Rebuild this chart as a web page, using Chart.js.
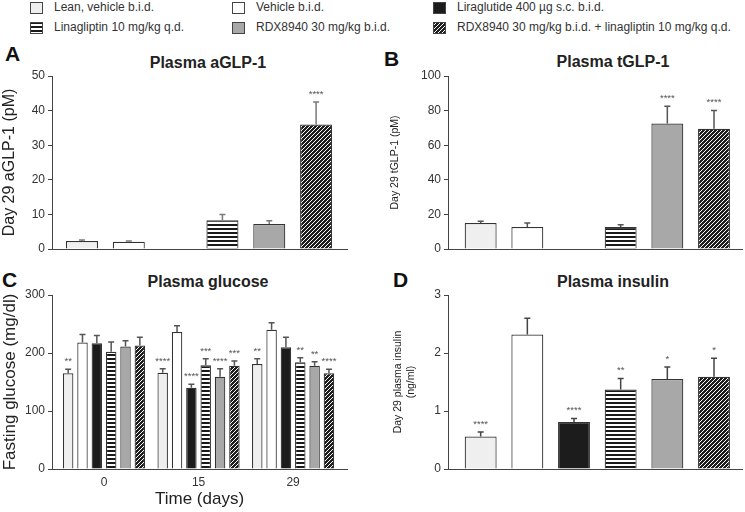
<!DOCTYPE html>
<html>
<head>
<meta charset="utf-8">
<script src="https://cdn.jsdelivr.net/npm/chart.js@4.4.0/dist/chart.umd.min.js"></script>
<style>
    body { margin: 0; background: #fff; width: 745px; height: 512px; position: relative; overflow: hidden;
           font-family: "Liberation Sans", Arial, sans-serif; color: #222; }
    canvas { position: absolute; }
    .txt { position: absolute; white-space: nowrap; }
    .letter { font-size: 21px; font-weight: bold; line-height: 21px; color: #111; }
    .ptitle { font-size: 16px; font-weight: bold; line-height: 16px; width: 240px; text-align: center; color: #222; }
    .leg { font-size: 12px; line-height: 12px; color: #333; }
</style>
</head>
<body>

<div id="legend"></div>

<div class="txt letter" style="left:5px; top:43px;">A</div>
<div class="txt letter" style="left:384px; top:48px;">B</div>
<div class="txt letter" style="left:2px; top:269px;">C</div>
<div class="txt letter" style="left:393px; top:269px;">D</div>

<div class="txt ptitle" style="left:88px; top:55px;">Plasma aGLP-1</div>
<div class="txt ptitle" style="left:493px; top:54px;">Plasma tGLP-1</div>
<div class="txt ptitle" style="left:88px; top:274px;">Plasma glucose</div>
<div class="txt ptitle" style="left:493px; top:274px;">Plasma insulin</div>

<canvas id="chartA" width="372" height="230" style="left:0; top:40px;"></canvas>
<canvas id="chartB" width="373" height="230" style="left:372px; top:40px;"></canvas>
<canvas id="chartC" width="372" height="242" style="left:0; top:270px;"></canvas>
<canvas id="chartD" width="373" height="242" style="left:372px; top:270px;"></canvas>

<script>
// Treatment groups (legend order)
const treatments = [
    'Lean, vehicle b.i.d.',
    'Vehicle b.i.d.',
    'Liraglutide 400 µg s.c. b.i.d.',
    'Linagliptin 10 mg/kg q.d.',
    'RDX8940 30 mg/kg b.i.d.',
    'RDX8940 30 mg/kg b.i.d. + linagliptin 10 mg/kg q.d.'
];

// A: day 29 active GLP-1 (pM), mean and SEM
const aglpMean = [2.3, 2.1, null, 8.3, 7.2, 36.0];
const aglpSem = [0.3, 0.2, null, 1.7, 1.0, 6.5];
const aglpStars = ['', '', '', '', '', '****'];
const aglpTicks = [0, 10, 20, 30, 40, 50];

// B: day 29 total GLP-1 (pM)
const tglpMean = [15.0, 12.7, null, 12.7, 72.5, 69.5];
const tglpSem = [1.0, 2.3, null, 1.3, 10.0, 10.5];
const tglpStars = ['', '', '', '', '****', '****'];
const tglpTicks = [0, 20, 40, 60, 80, 100];

// C: fasting glucose (mg/dl) by day, one row per treatment
const days = ['0', '15', '29'];
const glucoseMean = [
    [165, 166, 181],
    [218, 236, 240],
    [217, 140, 210],
    [202, 179, 184],
    [211, 159, 178],
    [213, 178, 165]
];
const glucoseSem = [
    [7, 7, 9],
    [14, 11, 12],
    [13, 6, 17],
    [17, 11, 8],
    [10, 14, 7],
    [14, 8, 7]
];
const glucoseStars = [
    ['**', '****', '**'],
    ['', '', ''],
    ['', '****', ''],
    ['', '***', '**'],
    ['', '****', '**'],
    ['', '***', '****']
];
const glucoseTicks = [0, 100, 200, 300];

// D: day 29 plasma insulin (ng/ml)
const insulinMean = [0.56, 2.32, 0.81, 1.37, 1.55, 1.59];
const insulinSem = [0.08, 0.28, 0.06, 0.19, 0.21, 0.32];
const insulinStars = ['****', '', '****', '**', '*', '*'];
const insulinTicks = [0, 1, 2, 3];

Chart.defaults.font.family = '"Liberation Sans", Arial, sans-serif';
Chart.defaults.color = '#333';

// Fill patterns
function stripeTile() {
    const c = document.createElement('canvas');
    c.width = 4; c.height = 4;
    const g = c.getContext('2d');
    g.fillStyle = '#fff';
    g.fillRect(0, 0, 4, 4);
    g.fillStyle = '#1a1a1a';
    g.fillRect(0, 0, 4, 2);
    return c;
}

function hatchTile() {
    const s = 4;
    const c = document.createElement('canvas');
    c.width = s; c.height = s;
    const g = c.getContext('2d');
    g.fillStyle = '#1e1e1e';
    g.fillRect(0, 0, s, s);
    g.strokeStyle = '#fff';
    g.lineWidth = 1;
    g.beginPath();
    g.moveTo(0, s); g.lineTo(s, 0);
    g.moveTo(-1, 1); g.lineTo(1, -1);
    g.moveTo(s - 1, s + 1); g.lineTo(s + 1, s - 1);
    g.stroke();
    return c;
}

function fillsFor(ctx) {
    return [
        '#efefef',
        '#ffffff',
        '#1c1c1c',
        ctx.createPattern(stripeTile(), 'repeat'),
        '#a8a8a8',
        ctx.createPattern(hatchTile(), 'repeat')
    ];
}

// Legend
const legendPos = [
    [30, 1], [232, 1], [433, 1],
    [30, 21], [232, 21], [433, 21]
];
const legendEl = document.getElementById('legend');
treatments.forEach((name, t) => {
    const [lx, ly] = legendPos[t];
    const sw = document.createElement('canvas');
    sw.width = 13; sw.height = 12;
    sw.style.left = lx + 'px';
    sw.style.top = (ly + 0.5) + 'px';
    const g = sw.getContext('2d');
    g.fillStyle = fillsFor(g)[t];
    g.fillRect(0, 0, 13, 12);
    g.strokeStyle = '#444';
    g.lineWidth = 1;
    g.strokeRect(0.5, 0.5, 12, 11);
    legendEl.appendChild(sw);
    const tx = document.createElement('div');
    tx.className = 'txt leg';
    tx.style.left = (lx + 24) + 'px';
    tx.style.top = ly + 'px';
    tx.textContent = name;
    legendEl.appendChild(tx);
});

// Error bars and significance stars
const errorBars = {
    id: 'errorBars',
    afterDatasetsDraw(chart, args, opts) {
        const ctx = chart.ctx;
        const yScale = chart.scales.y;
        chart.data.datasets.forEach((ds, di) => {
            const meta = chart.getDatasetMeta(di);
            meta.data.forEach((bar, i) => {
                const mean = ds.data[i].y;
                const sem = ds.sem[i];
                if (mean == null || sem == null) return;
                const yTop = yScale.getPixelForValue(mean + sem);
                ctx.save();
                ctx.strokeStyle = opts.color;
                ctx.lineWidth = 1.5;
                ctx.beginPath();
                ctx.moveTo(bar.x, bar.y);
                ctx.lineTo(bar.x, yTop);
                ctx.moveTo(bar.x - 3, yTop);
                ctx.lineTo(bar.x + 3, yTop);
                ctx.stroke();
                if (ds.stars[i]) {
                    ctx.fillStyle = '#555';
                    ctx.font = '9.5px "Liberation Sans", Arial, sans-serif';
                    ctx.textAlign = 'center';
                    ctx.textBaseline = 'bottom';
                    ctx.fillText(ds.stars[i], bar.x, yTop - 3);
                }
                ctx.restore();
            });
        });
    }
};

function yAxis(ticks, title, titleSize, titlePad, width) {
    return {
        type: 'linear',
        min: ticks[0],
        max: ticks[ticks.length - 1],
        afterBuildTicks: s => { s.ticks = ticks.map(v => ({ value: v })); },
        afterFit: s => { s.width = width; },
        border: { display: true, color: '#444', width: 1 },
        grid: { drawOnChartArea: false, drawTicks: true, tickLength: 4, color: '#444' },
        ticks: { color: '#333', font: { size: 12 }, padding: 3 },
        title: { display: true, text: title, color: '#222', font: { size: titleSize }, padding: { top: titlePad, bottom: 0 } }
    };
}

function xAxis(min, max, count, labels, height, title) {
    const positions = [];
    for (let i = 0; i < count; i++) positions.push(i);
    return {
        type: 'linear',
        min: min,
        max: max,
        offset: false,
        afterBuildTicks: s => { s.ticks = positions.map(v => ({ value: v })); },
        afterFit: s => { s.height = height; },
        border: { display: true, color: '#444', width: 1 },
        grid: { display: false, drawTicks: false, offset: false },
        ticks: {
            display: labels.length > 0,
            color: '#333',
            font: { size: 12 },
            padding: 6,
            maxRotation: 0,
            autoSkip: false,
            callback: v => labels[v]
        },
        title: title
            ? { display: true, text: title, color: '#222', font: { size: 17 }, padding: { top: 0, bottom: 2 } }
            : { display: false }
    };
}

function baseOptions(padding, scales, errColor) {
    return {
        responsive: false,
        animation: false,
        layout: { padding: padding },
        plugins: {
            legend: { display: false },
            tooltip: { enabled: false },
            errorBars: { color: errColor }
        },
        scales: scales
    };
}

function singleSeries(ctx, mean, sem, stars) {
    return [{
        data: mean.map((v, i) => ({ x: i, y: v })),
        sem: sem,
        stars: stars,
        backgroundColor: fillsFor(ctx),
        borderColor: '#333',
        borderWidth: 1.2,
        categoryPercentage: 0.8,
        barPercentage: 0.855
    }];
}

// Panel A
const ctxA = document.getElementById('chartA').getContext('2d');
new Chart(ctxA, {
    type: 'bar',
    data: { datasets: singleSeries(ctxA, aglpMean, aglpSem, aglpStars) },
    options: baseOptions(
        { top: 36, right: 25, left: 0, bottom: 0 },
        {
            x: xAxis(-0.64, 5.66, treatments.length, [], 21, null),
            y: yAxis(aglpTicks, 'Day 29 aGLP-1 (pM)', 16, 0, 52)
        },
        '#7a7a7a'
    ),
    plugins: [errorBars]
});

// Panel B
const ctxB = document.getElementById('chartB').getContext('2d');
new Chart(ctxB, {
    type: 'bar',
    data: { datasets: singleSeries(ctxB, tglpMean, tglpSem, tglpStars) },
    options: baseOptions(
        { top: 36, right: 3, left: 0, bottom: 0 },
        {
            x: xAxis(-0.7, 5.6, treatments.length, [], 21, null),
            y: yAxis(tglpTicks, 'Day 29 tGLP-1 (pM)', 10.5, 17, 76)
        },
        '#555'
    ),
    plugins: [errorBars]
});

// Panel C
const ctxC = document.getElementById('chartC').getContext('2d');
const fillsC = fillsFor(ctxC);
new Chart(ctxC, {
    type: 'bar',
    data: {
        datasets: treatments.map((name, t) => ({
            label: name,
            data: glucoseMean[t].map((v, i) => ({ x: i, y: v })),
            sem: glucoseSem[t],
            stars: glucoseStars[t],
            backgroundColor: fillsC[t],
            borderColor: '#333',
            borderWidth: 1.2,
            categoryPercentage: 0.91,
            barPercentage: 0.73
        }))
    },
    options: baseOptions(
        { top: 25, right: 25, left: 0, bottom: 0 },
        {
            x: xAxis(-0.55, 2.57, days.length, days, 43, 'Time (days)'),
            y: yAxis(glucoseTicks, 'Fasting glucose (mg/dl)', 17, 0, 52)
        },
        '#555'
    ),
    plugins: [errorBars]
});

// Panel D
const ctxD = document.getElementById('chartD').getContext('2d');
new Chart(ctxD, {
    type: 'bar',
    data: { datasets: singleSeries(ctxD, insulinMean, insulinSem, insulinStars) },
    options: baseOptions(
        { top: 25, right: 3, left: 0, bottom: 0 },
        {
            x: xAxis(-0.7, 5.6, treatments.length, [], 43, null),
            y: yAxis(insulinTicks, ['Day 29 plasma insulin', '(ng/ml)'], 10.5, 20, 76)
        },
        '#444'
    ),
    plugins: [errorBars]
});
</script>
</body>
</html>
